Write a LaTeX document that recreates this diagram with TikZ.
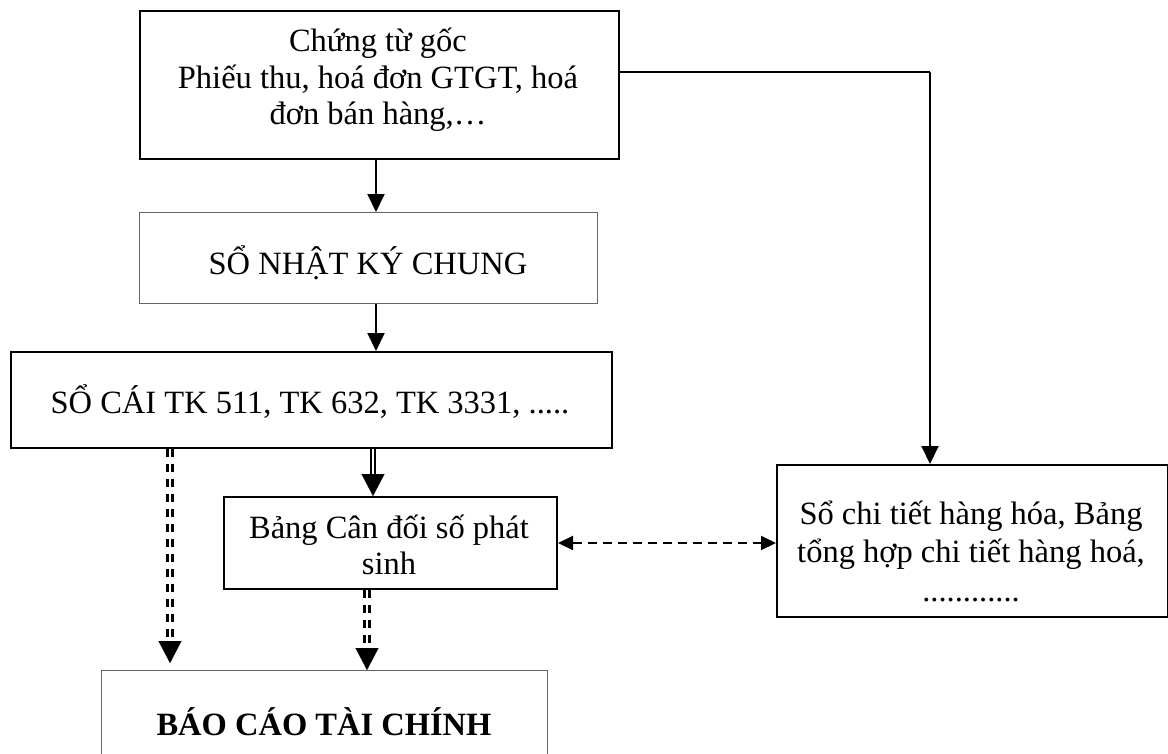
\documentclass[tikz,border=0pt]{standalone}
\usepackage{fontspec}
\setmainfont{Liberation Serif}
\usetikzlibrary{arrows.meta}
\begin{document}
\begin{tikzpicture}[x=1pt,y=-1pt,
  box/.style={draw=black, line width=2pt, inner sep=0pt, anchor=north west},
  greybox/.style={draw=black!60, line width=1.3pt, inner sep=0pt, anchor=north west},
  txt/.style={align=center, inner sep=0pt, font=\fontsize{32.5}{36.5}\selectfont},
  arr/.style={line width=2pt, -{Triangle[length=18pt,width=17pt]}},
  dblsolid/.style={line width=2pt, double, double distance=2.5pt},
  dbldash/.style={line width=2.5pt, double, double distance=2.5pt, dash pattern=on 8pt off 7pt},
  bighead/.style={line width=0.1pt, -{Triangle[length=22pt,width=23pt]}},
  biarr/.style={line width=2pt, dash pattern=on 9pt off 6pt, {Triangle[length=15pt,width=14pt]}-{Triangle[length=15pt,width=14pt]}}
]
\useasboundingbox (0,0) rectangle (1168,753);
\clip (0,0) rectangle (1168,753);

% boxes
\node[box, minimum width=479pt, minimum height=148pt] (b1) at (139,10) {};
\node[greybox, minimum width=458pt, minimum height=91pt] (b2) at (139,212) {};
\node[box, minimum width=601pt, minimum height=96pt] (b3) at (10,351) {};
\node[box, minimum width=333pt, minimum height=92pt] (b4) at (223,496) {};
\node[box, minimum width=391pt, minimum height=152pt] (b5) at (776,464) {};
\node[greybox, minimum width=446pt, minimum height=130pt] (b6) at (101,670) {};

% box texts
\node[txt] (t1) at (378,80) {Chứng từ gốc\\Phiếu thu, hoá đơn GTGT, hoá\\đơn bán hàng,…};
\node[txt] (t2) at (368,263) {SỔ NHẬT KÝ CHUNG};
\node[txt] (t3) at (310,402) {SỔ CÁI TK 511, TK 632, TK 3331, .....};
\node[txt] (t4) at (389,545) {Bảng Cân đối số phát\\sinh};
\node[txt, font=\fontsize{32.5}{38.5}\selectfont] (t5) at (971,551) {Sổ chi tiết hàng hóa, Bảng\\tổng hợp chi tiết hàng hoá,\\............};
\node[txt, font=\fontsize{32.5}{38}\selectfont\bfseries] (t6) at (324,722) {BÁO CÁO TÀI CHÍNH};

% connector columns
\coordinate (cA) at (376,0);
\coordinate (cB) at (373,0);
\coordinate (cL) at (170,0);
\coordinate (cR) at (367,0);
\coordinate (cS) at (930,72);

% solid arrows
\draw[arr] (b1.south -| cA) -- (b2.north -| cA);
\draw[arr] (b2.south -| cA) -- (b3.north -| cA);
\draw[line width=2pt] (b1.east |- cS) -- (cS);
\draw[arr] (cS) -- (b5.north -| cS);

% double solid arrow
\draw[dblsolid] (b3.south -| cB) -- ([yshift=20pt]b4.north -| cB);
\draw[bighead] ([yshift=22pt]b4.north -| cB) -- (b4.north -| cB);

% double dashed arrows
\draw[dbldash] (b3.south -| cL) -- ([yshift=24pt]b6.north -| cL);
\draw[bighead] ([yshift=23pt]b6.north -| cL) -- ([yshift=7pt]b6.north -| cL);
\draw[dbldash] (b4.south -| cR) -- ([yshift=12pt]b6.north -| cR);
\draw[bighead] ([yshift=22pt]b6.north -| cR) -- (b6.north -| cR);

% dashed two-way arrow
\draw[biarr] (b4.east |- 0,543) -- (b5.west |- 0,543);
\end{tikzpicture}
\end{document}
